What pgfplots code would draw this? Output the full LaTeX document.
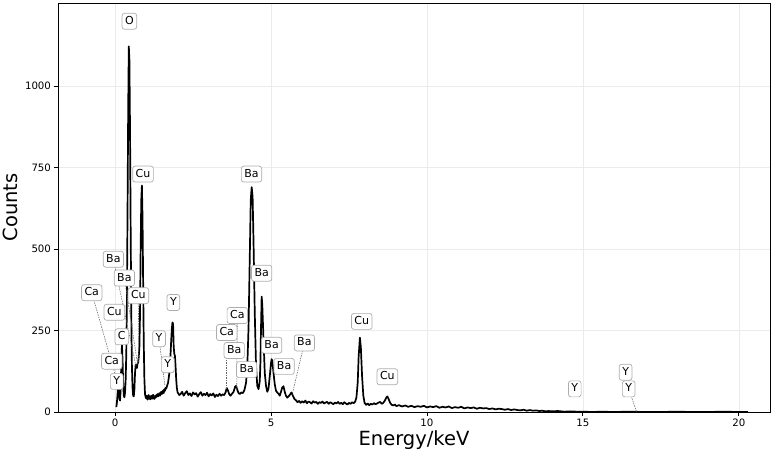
\documentclass[border=0pt]{standalone}
\usepackage{fontspec}
\setmainfont{DejaVu Sans}
\usepackage{pgfplots}
\pgfplotsset{compat=1.18}
\pgfplotstableread{
E C
0.04 15
0.06 30
0.08 55
0.10 85
0.12 70
0.14 40
0.16 35
0.18 70
0.20 150
0.22 205
0.24 160
0.26 85
0.28 50
0.30 45
0.32 60
0.34 100
0.36 180
0.38 350
0.40 620
0.42 920
0.44 1122
0.46 1080
0.48 860
0.50 560
0.52 300
0.54 140
0.56 75
0.58 50
0.60 48
0.62 70
0.64 120
0.66 145
0.68 140
0.70 135
0.72 148
0.74 152
0.76 170
0.78 200
0.80 300
0.82 500
0.84 650
0.86 695
0.88 600
0.90 400
0.92 210
0.94 100
0.96 55
0.98 45
1.00 42
1.02 50
1.04 38
1.06 44
1.08 52
1.10 40
1.12 47
1.14 39
1.16 50
1.18 45
1.20 41
1.22 53
1.24 46
1.26 40
1.28 49
1.30 44
1.32 52
1.34 47
1.36 55
1.38 48
1.40 53
1.42 58
1.44 50
1.46 57
1.48 62
1.50 55
1.52 60
1.54 66
1.56 58
1.58 70
1.60 65
1.62 74
1.64 72
1.66 78
1.68 84
1.70 90
1.72 104
1.74 120
1.76 150
1.78 180
1.80 220
1.82 255
1.84 275
1.86 270
1.88 200
1.90 178
1.92 172
1.94 140
1.96 100
1.98 75
2.00 62
2.02 58
2.06 52
2.10 55
2.15 62
2.20 50
2.25 58
2.30 64
2.35 52
2.40 57
2.45 49
2.50 60
2.55 54
2.60 58
2.65 47
2.70 55
2.75 61
2.80 50
2.85 56
2.90 52
2.95 59
3.00 48
3.05 55
3.10 51
3.15 57
3.20 46
3.25 53
3.30 49
3.35 56
3.40 50
3.45 54
3.50 52
3.55 62
3.58 74
3.62 66
3.66 55
3.70 50
3.75 56
3.80 62
3.85 78
3.88 80
3.92 68
3.96 58
4.00 55
4.05 60
4.10 58
4.15 68
4.20 90
4.24 140
4.28 260
4.32 480
4.35 650
4.38 690
4.41 660
4.44 520
4.48 300
4.52 140
4.56 80
4.60 70
4.64 95
4.66 150
4.68 260
4.70 354
4.72 330
4.76 220
4.80 120
4.84 80
4.88 62
4.92 72
4.96 110
5.00 150
5.02 162
5.04 158
5.08 120
5.12 85
5.16 65
5.20 60
5.24 56
5.28 50
5.32 62
5.36 75
5.40 79
5.44 62
5.48 50
5.52 44
5.56 48
5.60 52
5.64 58
5.66 60
5.70 50
5.75 40
5.80 36
5.85 30
5.90 34
5.95 28
6.00 33
6.05 29
6.10 35
6.15 27
6.20 32
6.25 30
6.30 26
6.35 33
6.40 29
6.45 31
6.50 25
6.55 30
6.60 28
6.65 32
6.70 26
6.75 29
6.80 31
6.85 25
6.90 30
6.95 27
7.00 24
7.05 29
7.10 26
7.15 31
7.20 25
7.25 28
7.30 24
7.35 30
7.40 26
7.45 23
7.50 28
7.55 25
7.60 30
7.65 27
7.70 32
7.74 45
7.78 90
7.81 170
7.85 228
7.88 200
7.92 110
7.96 50
8.00 28
8.05 22
8.10 26
8.15 21
8.20 25
8.25 23
8.30 27
8.35 24
8.40 26
8.45 29
8.50 31
8.55 25
8.60 28
8.65 35
8.70 45
8.73 48
8.77 40
8.82 28
8.87 22
8.92 20
8.97 23
9.02 18
9.1 21
9.2 17
9.3 20
9.4 16
9.5 19
9.6 15
9.7 18
9.8 16
9.9 19
10.0 14
10.1 17
10.2 15
10.3 18
10.4 13
10.5 16
10.6 14
10.7 17
10.8 12
10.9 15
11.0 13
11.1 16
11.2 11
11.3 14
11.4 12
11.5 14
11.6 10
11.7 13
11.8 11
11.9 12
12.0 9
12.1 11
12.2 8
12.3 10
12.4 9
12.5 7
12.6 9
12.7 6
12.8 8
12.9 6
13.0 5
13.1 7
13.2 4
13.3 6
13.4 4
13.5 5
13.6 3
13.7 4
13.8 2
13.9 3
14.0 2
14.2 3
14.4 1
14.6 2
14.8 1
15.0 1
15.3 0
15.6 1
16.0 0
16.5 1
17.0 0
17.5 0
18.0 1
18.5 0
19.0 0
19.5 1
20.0 0
20.3 0
}\spectrum
\begin{document}
\begin{tikzpicture}[
  lbl/.style={draw=black!32, fill=white, rounded corners=2.5bp, inner sep=3bp,
    text height=8bp, text depth=2bp, line width=0.7bp,
    font=\fontsize{11bp}{13bp}\selectfont},
  leader/.style={draw=black!60, dash pattern=on 1.5bp off 1bp, line width=0.55bp},
]
\path[use as bounding box] (-58bp,-45bp) rectangle (716bp,412bp);
\begin{axis}[
  at={(0,0)}, anchor=south west,
  scale only axis, width=712bp, height=409bp,
  xmin=-1.83, xmax=21.0, ymin=0, ymax=1255,
  xtick={0,5,10,15,20}, ytick={0,250,500,750,1000},
  tick align=outside, tick pos=left,
  major tick length=3.5bp,
  grid=major, grid style={color=black!8, line width=0.6bp},
  axis line style={line width=0.8bp},
  tick style={black, line width=0.8bp},
  every tick label/.append style={font=\fontsize{10.2bp}{12bp}\selectfont},
  /pgf/number format/assume math mode=true,
  /pgf/number format/1000 sep={},
  xlabel={Energy/keV}, ylabel={Counts},
  label style={font=\fontsize{19.5bp}{22bp}\selectfont},
  xlabel style={yshift=2.5bp},
]
\addplot[black, line width=1.7bp, mark=none, line join=round] table[x=E, y=C] {\spectrum};
% leader lines
\draw[leader] (axis cs:-0.054,469) -- (axis cs:0.67,140);
\draw[leader] (axis cs:0.298,411) -- (axis cs:0.72,148);
\draw[leader] (axis cs:-0.747,366) -- (axis cs:0.11,79);
\draw[leader] (axis cs:0.747,357) -- (axis cs:0.76,150);
\draw[leader] (axis cs:1.41,225) -- (axis cs:1.60,79);
\draw[leader] (axis cs:3.92,296) -- (axis cs:3.90,64);
\draw[leader] (axis cs:3.58,244) -- (axis cs:3.58,70);
\draw[leader] (axis cs:6.07,212) -- (axis cs:5.68,54);
\draw[leader] (axis cs:16.47,71) -- (axis cs:16.72,1);
% labels
\node[lbl] at (axis cs:0.458,1199) {O};
\node[lbl] at (axis cs:0.897,730) {Cu};
\node[lbl] at (axis cs:4.375,730) {Ba};
\node[lbl] at (axis cs:-0.054,469) {Ba};
\node[lbl] at (axis cs:0.298,411) {Ba};
\node[lbl] at (axis cs:-0.747,366) {Ca};
\node[lbl] at (axis cs:0.747,357) {Cu};
\node[lbl] at (axis cs:-0.022,306) {Cu};
\node[lbl] at (axis cs:0.215,231) {C};
\node[lbl] at (axis cs:-0.106,156) {Ca};
\node[lbl] at (axis cs:0.054,94) {Y};
\node[lbl] at (axis cs:1.869,336) {Y};
\node[lbl] at (axis cs:1.41,225) {Y};
\node[lbl] at (axis cs:1.689,145) {Y};
\node[lbl] at (axis cs:3.92,296) {Ca};
\node[lbl] at (axis cs:3.58,244) {Ca};
\node[lbl] at (axis cs:3.82,189) {Ba};
\node[lbl] at (axis cs:4.22,130) {Ba};
\node[lbl] at (axis cs:4.70,426) {Ba};
\node[lbl] at (axis cs:5.02,205) {Ba};
\node[lbl] at (axis cs:5.42,140) {Ba};
\node[lbl] at (axis cs:6.07,212) {Ba};
\node[lbl] at (axis cs:7.91,278) {Cu};
\node[lbl] at (axis cs:8.73,108) {Cu};
\node[lbl] at (axis cs:14.74,71) {Y};
\node[lbl] at (axis cs:16.37,122) {Y};
\node[lbl] at (axis cs:16.47,71) {Y};
\end{axis}
\end{tikzpicture}
\end{document}
